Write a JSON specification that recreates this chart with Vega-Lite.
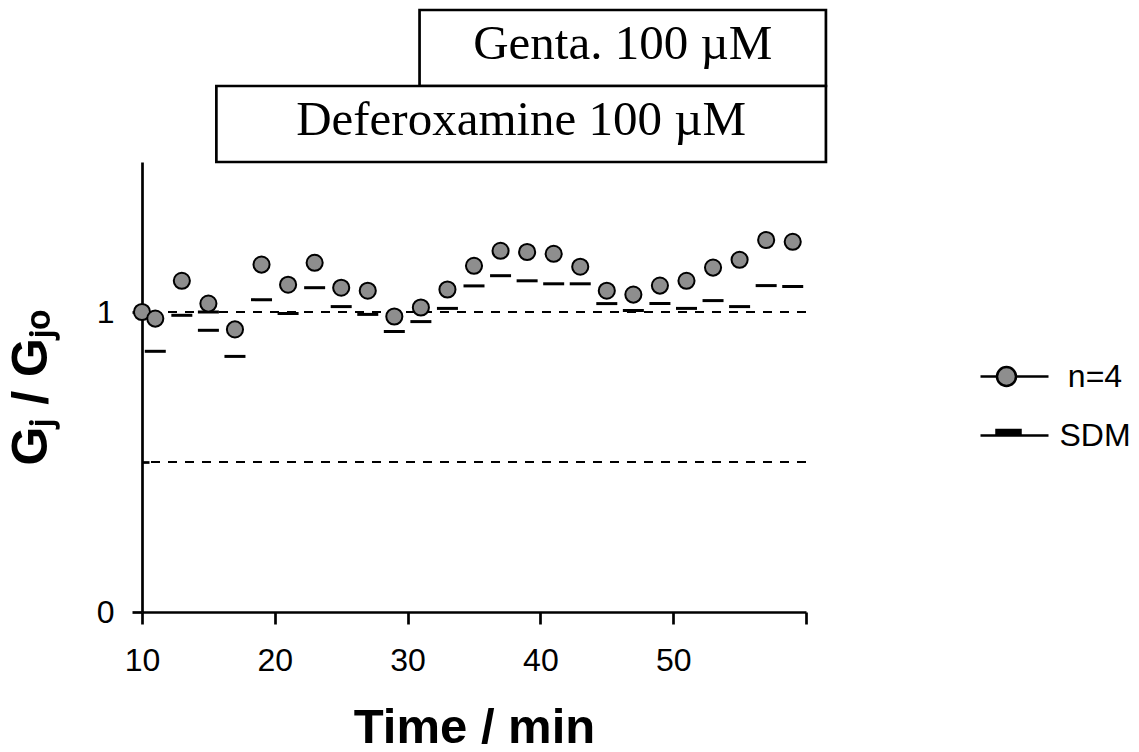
{
  "$schema": "https://vega.github.io/schema/vega-lite/v6.json",
  "background": "white",
  "padding": {"left": 6, "top": 8, "right": 0, "bottom": 0},
  "spacing": 0,
  "bounds": "flush",
  "config": {
    "view": {"stroke": null},
    "font": "Liberation Sans"
  },
  "datasets": {
    "treatments": [
      {"drug": "Genta.", "label": "Genta. 100 µM", "start": 30.9, "end": 61.5},
      {"drug": "Deferoxamine", "label": "Deferoxamine 100 µM", "start": 15.6, "end": 61.5}
    ],
    "refs": [
      {"level": 1},
      {"level": 0.5}
    ],
    "means": [
      {"time": 10, "ratio": 1.0},
      {"time": 11, "ratio": 0.978},
      {"time": 13, "ratio": 1.104},
      {"time": 15, "ratio": 1.028},
      {"time": 17, "ratio": 0.942},
      {"time": 19, "ratio": 1.158},
      {"time": 21, "ratio": 1.091},
      {"time": 23, "ratio": 1.164},
      {"time": 25, "ratio": 1.081},
      {"time": 27, "ratio": 1.071},
      {"time": 29, "ratio": 0.985},
      {"time": 31, "ratio": 1.015},
      {"time": 33, "ratio": 1.075},
      {"time": 35, "ratio": 1.154},
      {"time": 37, "ratio": 1.204},
      {"time": 39, "ratio": 1.2},
      {"time": 41, "ratio": 1.194},
      {"time": 43, "ratio": 1.151},
      {"time": 45, "ratio": 1.071},
      {"time": 47, "ratio": 1.058},
      {"time": 49, "ratio": 1.088},
      {"time": 51, "ratio": 1.104},
      {"time": 53, "ratio": 1.148},
      {"time": 55, "ratio": 1.174},
      {"time": 57, "ratio": 1.24},
      {"time": 59, "ratio": 1.234}
    ],
    "sdm": [
      {"time": 11, "ratio": 0.869},
      {"time": 13, "ratio": 0.989},
      {"time": 15, "ratio": 1.0},
      {"time": 15, "ratio": 0.939},
      {"time": 17, "ratio": 0.852},
      {"time": 19, "ratio": 1.041},
      {"time": 21, "ratio": 0.995},
      {"time": 23, "ratio": 1.081},
      {"time": 25, "ratio": 1.018},
      {"time": 27, "ratio": 0.992},
      {"time": 29, "ratio": 0.935},
      {"time": 31, "ratio": 0.968},
      {"time": 33, "ratio": 1.012},
      {"time": 35, "ratio": 1.087},
      {"time": 37, "ratio": 1.121},
      {"time": 39, "ratio": 1.104},
      {"time": 41, "ratio": 1.094},
      {"time": 43, "ratio": 1.094},
      {"time": 45, "ratio": 1.028},
      {"time": 47, "ratio": 1.005},
      {"time": 49, "ratio": 1.028},
      {"time": 51, "ratio": 1.012},
      {"time": 53, "ratio": 1.038},
      {"time": 55, "ratio": 1.018},
      {"time": 57, "ratio": 1.088},
      {"time": 59, "ratio": 1.085}
    ]
  },
  "vconcat": [
    {
      "width": 664,
      "height": 152,
      "data": {"name": "treatments"},
      "transform": [{"calculate": "(datum.start + datum.end) / 2", "as": "mid"}],
      "layer": [
        {
          "mark": {"type": "rect", "fill": "white", "stroke": "black", "strokeWidth": 2.7},
          "encoding": {
            "x": {"field": "start", "type": "quantitative", "scale": {"domain": [10, 60], "nice": false, "zero": false}, "axis": null},
            "x2": {"field": "end"},
            "y": {"field": "drug", "type": "nominal", "scale": {"domain": ["Genta.", "Deferoxamine"], "paddingInner": 0, "paddingOuter": 0}, "axis": null}
          }
        },
        {
          "mark": {"type": "text", "font": "Liberation Serif", "fontSize": 49, "baseline": "middle", "dy": -4, "color": "black"},
          "encoding": {
            "x": {"field": "mid", "type": "quantitative"},
            "y": {"field": "drug", "type": "nominal"},
            "text": {"field": "label"}
          }
        }
      ]
    },
    {
      "width": 664,
      "height": 450,
      "encoding": {
        "x": {
          "field": "time", "type": "quantitative",
          "scale": {"domain": [10, 60], "nice": false, "zero": false},
          "axis": {
            "title": "Time / min",
            "values": [10, 20, 30, 40, 50, 60],
            "labelExpr": "datum.value == 60 ? '' : datum.label",
            "labelFlush": false,
            "grid": false,
            "domainColor": "black", "domainWidth": 2.7,
            "tickColor": "black", "tickWidth": 2.7, "tickSize": 12,
            "labelFont": "Liberation Sans", "labelFontSize": 32, "labelColor": "black", "labelPadding": 21,
            "titleFont": "Liberation Sans", "titleFontSize": 49, "titleFontWeight": "bold", "titleColor": "black", "titlePadding": 27
          }
        },
        "y": {
          "field": "ratio", "type": "quantitative",
          "scale": {"domain": [0, 1.5], "nice": false},
          "axis": {
            "title": "Gⱼ / Gⱼₒ",
            "values": [0, 0.5, 1],
            "labelExpr": "datum.value == 0 ? '0' : datum.value == 1 ? '1' : ''",
            "labelFlush": false,
            "grid": false,
            "domainColor": "black", "domainWidth": 2.7,
            "tickColor": "black", "tickWidth": 2.7,
            "tickSize": {"condition": {"test": "datum.value == 0.5", "value": -7}, "value": 10},
            "labelFont": "Liberation Sans", "labelFontSize": 32, "labelColor": "black", "labelPadding": 18,
            "titleFont": "Liberation Sans", "titleFontSize": 50, "titleFontWeight": "bold", "titleColor": "black", "titlePadding": 40
          }
        }
      },
      "layer": [
        {
          "data": {"name": "refs"},
          "mark": {"type": "rule", "color": "black", "strokeWidth": 2, "strokeDash": [9, 8]},
          "encoding": {
            "x": null,
            "y": {"field": "level", "type": "quantitative"}
          }
        },
        {
          "data": {"name": "sdm"},
          "mark": {"type": "tick", "orient": "horizontal", "size": 21, "thickness": 3, "strokeWidth": 0, "opacity": 1},
          "encoding": {
            "fill": {
              "datum": "SDM",
              "scale": {"domain": ["n=4", "SDM"], "range": ["#8e8e8e", "black"]},
              "legend": {
                "title": null,
                "orient": "none",
                "legendX": 851,
                "legendY": 345,
                "padding": 0,
                "symbolSize": 1600,
                "symbolStrokeWidth": 2.5,
                "symbolType": {"expr": "datum.value === 'n=4' ? 'M-1.7,0H-0.875M0.075,0H1.7M-0.875,0A0.475,0.475 0 1,0 0.075,0A0.475,0.475 0 1,0 -0.875,0Z' : 'M-1.7,0H1.7M-0.9,-0.275H0.3V-0.075H-0.9Z'"},
                "symbolStrokeColor": "black",
                "symbolOpacity": 1,
                "rowPadding": 21,
                "labelFont": "Liberation Sans",
                "labelFontSize": 32,
                "labelColor": "black",
                "labelAlign": "center",
                "labelOffset": 59
              }
            }
          }
        },
        {
          "data": {"name": "means"},
          "mark": {"type": "point", "filled": true, "stroke": "black", "size": 260, "strokeWidth": 2, "opacity": 1},
          "encoding": {
            "fill": {
              "datum": "n=4",
              "legend": {
                "title": null,
                "orient": "none",
                "legendX": 851,
                "legendY": 345,
                "padding": 0,
                "symbolSize": 1600,
                "symbolStrokeWidth": 2.5,
                "symbolType": {"expr": "datum.value === 'n=4' ? 'M-1.7,0H-0.875M0.075,0H1.7M-0.875,0A0.475,0.475 0 1,0 0.075,0A0.475,0.475 0 1,0 -0.875,0Z' : 'M-1.7,0H1.7M-0.9,-0.275H0.3V-0.075H-0.9Z'"},
                "symbolStrokeColor": "black",
                "symbolOpacity": 1,
                "rowPadding": 21,
                "labelFont": "Liberation Sans",
                "labelFontSize": 32,
                "labelColor": "black",
                "labelAlign": "center",
                "labelOffset": 59
              }
            }
          }
        }
      ]
    }
  ]
}
